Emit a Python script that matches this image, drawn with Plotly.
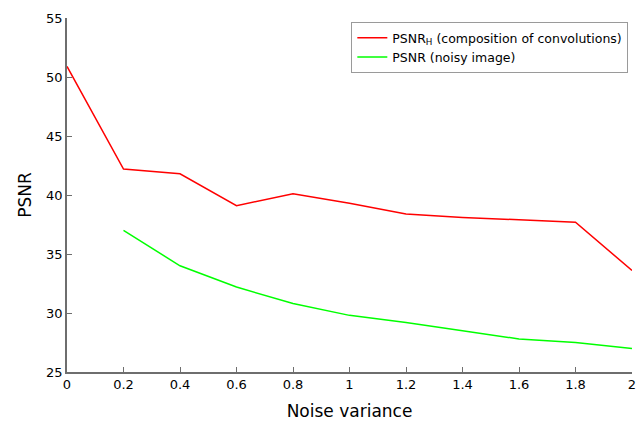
import plotly.graph_objects as go

# Noise variance levels
variance_h = [0.0, 0.2, 0.4, 0.6, 0.8, 1.0, 1.2, 1.4, 1.6, 1.8, 2.0]
variance_noisy = [0.2, 0.4, 0.6, 0.8, 1.0, 1.2, 1.4, 1.6, 1.8, 2.0]

# PSNR of the composition of convolutions
psnr_h = [50.9, 42.2, 41.8, 39.1, 40.1, 39.3, 38.4, 38.1, 37.9, 37.7, 33.6]
# PSNR of the noisy image
psnr_noisy = [37.0, 34.0, 32.2, 30.8, 29.8, 29.2, 28.5, 27.8, 27.5, 27.0]

FONT = "DejaVu Sans"
AXIS_GREY = "#6e6e6e"

fig = go.Figure()
fig.add_trace(go.Scatter(
    x=variance_h, y=psnr_h, mode="lines",
    name="PSNR<sub>H</sub> (composition of convolutions)",
    line=dict(color="#ff0000", width=1.5),
))
fig.add_trace(go.Scatter(
    x=variance_noisy, y=psnr_noisy, mode="lines",
    name="PSNR (noisy image)",
    line=dict(color="#00ff00", width=1.5),
))

axis_common = dict(
    showgrid=False, zeroline=False, showline=True,
    linecolor=AXIS_GREY, linewidth=1.5,
    ticks="inside", ticklen=5, tickwidth=1.2, tickcolor=AXIS_GREY,
    tickfont=dict(family=FONT, size=13, color="#000000"),
    mirror=False, automargin=False,
)

fig.update_layout(
    width=642, height=421,
    margin=dict(l=67, r=10, t=18, b=49),
    paper_bgcolor="white", plot_bgcolor="white",
    font=dict(family=FONT, color="#000000"),
    xaxis=dict(
        range=[0, 2], dtick=0.2, tick0=0,
        title=dict(text="Noise variance", font=dict(family=FONT, size=17), standoff=14),
        **axis_common,
    ),
    yaxis=dict(
        range=[25, 55], dtick=5, tick0=25,
        title=dict(text="PSNR", font=dict(family=FONT, size=17), standoff=10),
        **axis_common,
    ),
    legend=dict(
        x=0.9935, y=0.988, xanchor="right", yanchor="top",
        bgcolor="white", bordercolor="#9a9a9a", borderwidth=1,
        font=dict(family=FONT, size=12.5, color="#000000"),
        itemwidth=30, tracegroupgap=0,
    ),
    showlegend=True,
)

fig.write_html("out.html")
